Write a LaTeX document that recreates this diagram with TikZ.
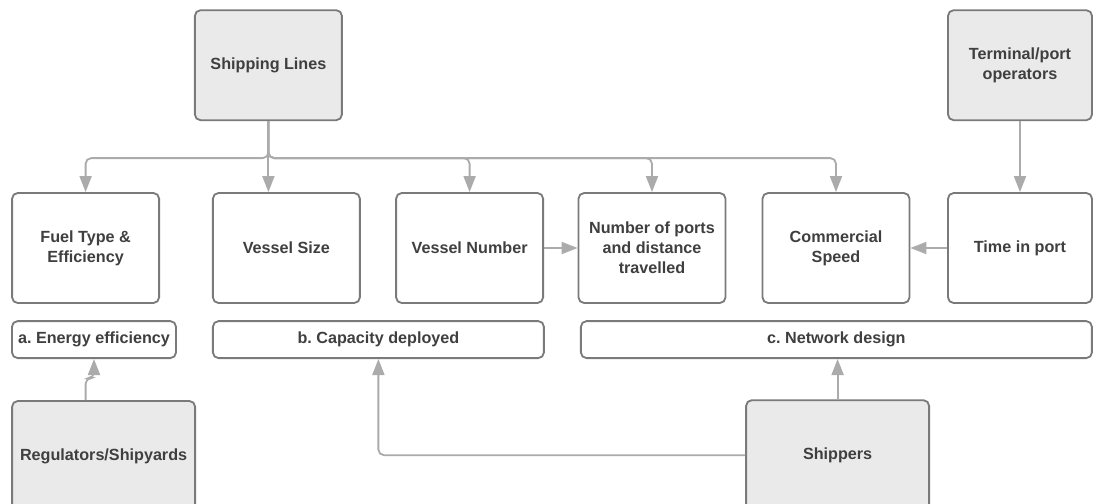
\documentclass[tikz,border=0pt]{standalone}
\usepackage{fontspec}
\setmainfont{Liberation Sans}
\usepackage{xcolor}
\usepackage{tikz}
\usetikzlibrary{arrows.meta, positioning}

\definecolor{boxline}{HTML}{7A7A7A}
\definecolor{arrowgray}{HTML}{ABABAB}
\definecolor{actorfill}{HTML}{EAEAEA}
\definecolor{txtgray}{HTML}{3F3F3F}
\frenchspacing

\begin{document}
\begin{tikzpicture}[
      base/.style={draw=boxline, line width=1.3pt, rounded corners=4pt, align=center, inner sep=0pt,
                   minimum height=2.75cm, minimum width=3.675cm, text=txtgray,
                   font=\fontsize{11.5}{14.2}\selectfont\bfseries},
      actor/.style={base, fill=actorfill},
      factor/.style={base, fill=white},
      group/.style={base, fill=white, minimum height=0.925cm},
      a/.style={-{Triangle[length=0.4cm, width=0.3cm]}, line width=1.3pt, draw=arrowgray, rounded corners=4pt}
    ]
    \useasboundingbox (0,0) rectangle (27.325,-12.575);

    % ---- Actors at the top ----
    \node[actor] (ship)     at (6.71,-1.63)  {Shipping Lines};
    \node[actor, minimum width=3.6cm] (terminal) at (25.5,-1.63) {Terminal/port\\operators};

    % ---- Row of factors ----
    \node[factor] (fuel)  at (2.14,-6.2)  {Fuel Type \&\\Efficiency};
    \node[factor] (size)  at (7.16,-6.2)  {Vessel Size};
    \node[factor] (vnum)  at (11.74,-6.2) {Vessel Number};
    \node[factor] (ports) at (16.3,-6.2)  {Number of ports\\and distance\\travelled};
    \node[factor] (speed) at (20.9,-6.2)  {Commercial\\Speed};
    \node[factor, minimum width=3.6cm] (tport) at (25.5,-6.2) {Time in port};

    \draw[a] (ship.south) -- ++(0,-0.925) -| (fuel.north);
    \draw[a] (ship.south) -- (ship.south |- size.north);
    \draw[a] (ship.south) -- ++(0,-0.925) -| (vnum.north);
    \draw[a] (ship.south) -- ++(0,-0.925) -| (ports.north);
    \draw[a] (ship.south) -- ++(0,-0.925) -| (speed.north);
    \draw[a] (terminal) -- (tport);
    \draw[a] (vnum) -- (ports);
    \draw[a] (tport) -- (speed);

    % ---- Groups ----
    \node[group, minimum width=4.1cm]   (eff) at (2.35,-8.49)  {a. Energy efficiency};
    \node[group, minimum width=8.275cm] (cap) at (9.46,-8.49)  {b. Capacity deployed};
    \node[group, minimum width=12.775cm] (net) at (20.91,-8.49) {c. Network design};

    % ---- Actors at the bottom ----
    \node[actor, minimum width=4.575cm] (reg)      at (2.59,-11.4)  {Regulators/Shipyards};
    \node[actor, minimum width=4.575cm] (shippers) at (20.94,-11.38) {Shippers};

    \draw[a] (reg.north -| fuel.south) -- ++(0,0.55) -| (eff.south);
    \draw[a] (shippers.north) -- (shippers.north |- net.south);
    \draw[a] (shippers.west) -| (cap.south);

    \end{tikzpicture}
\end{document}
